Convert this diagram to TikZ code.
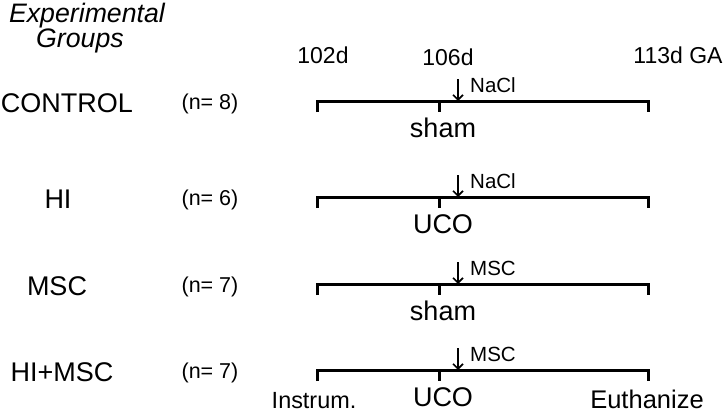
\documentclass[tikz,border=0pt]{standalone}
\usepackage{fontspec}
\setmainfont{Liberation Sans}
\usetikzlibrary{arrows.meta}
\tikzset{
  % plain text labels
  lbl/.style={inner sep=0pt},
  grouplbl/.style={lbl, font=\fontsize{27}{29}\selectfont},
  countlbl/.style={lbl, font=\fontsize{21.5}{23}\selectfont},
  daylbl/.style={lbl, font=\fontsize{23}{25}\selectfont},
  druglbl/.style={lbl, font=\fontsize{20.5}{22}\selectfont},
  proclbl/.style={lbl, font=\fontsize{27}{29}\selectfont},
  headlbl/.style={lbl, font=\fontsize{26.7}{28}\selectfont\itshape},
  % timeline bar with end ticks
  timeline/.style={line width=3pt, line join=miter},
  % injection arrow
  inject/.style={line width=1.6pt, -{Straight Barb[length=5pt,width=10pt,line width=1.6pt]}},
}
\begin{document}
\begin{tikzpicture}[x=1pt, y=-1pt]
  \useasboundingbox (0,0) rectangle (725,415);

  \node[headlbl] (head1) at (87,16) {Experimental};
  \node[headlbl] (head2) at (80,41) {Groups};

  \node[daylbl] (d102) at (323,55) {102d};
  \node[daylbl] (d106) at (448,57) {106d};
  \node[daylbl] (d113) at (678,55) {113d GA};

  \foreach \y/\gx/\grp/\n/\drug/\proc [count=\i] in
    {101/67/CONTROL/8/NaCl/sham, 197/58/HI/6/NaCl/UCO,
     284/57/MSC/7/MSC/sham, 370/62/HI+MSC/7/MSC/UCO}
  {
    \node[grouplbl] (grp\i) at (\gx,\y+2) {\grp};
    \node[countlbl] (cnt\i) at (210,\y+3) {(n= \n)};

    \coordinate (start\i) at (317,\y);
    \coordinate (mid\i) at (439,\y);
    \coordinate (stop\i) at (648,\y);
    \coordinate (shot\i) at (458,\y);

    \draw[timeline] ([yshift=-11pt]start\i) -- (start\i) -- (stop\i) -- ([yshift=-11pt]stop\i);
    \draw[timeline] (mid\i) -- ([yshift=-11pt]mid\i);

    \draw[inject] ([yshift=22pt]shot\i) -- (shot\i);
    \node[druglbl] (drug\i) at (493,\y-16) {\drug};
    \node[proclbl] (proc\i) at (443,\y+27) {\proc};
  }

  \node[daylbl, font=\fontsize{23.4}{25}\selectfont] (instr) at (314,401) {Instrum.};
  \node[daylbl, font=\fontsize{25.5}{27}\selectfont] (euth) at (647,399) {Euthanize};
\end{tikzpicture}
\end{document}
